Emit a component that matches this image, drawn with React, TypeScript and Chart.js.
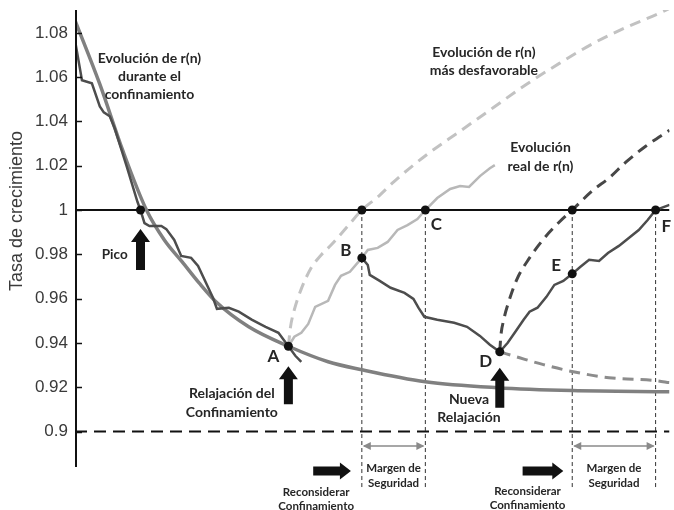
import { useEffect, useRef } from 'react';
import { Chart, registerables } from 'chart.js';

Chart.register(...registerables);

// ---- Series (x: tiempo, y: tasa de crecimiento r(n)) ----

// Modelo de r(n) durante el confinamiento
const MODEL_X = [0, 5, 9.6, 14.4, 18, 21.6, 25, 28.4, 35, 43, 51, 57.8, 70.6, 85, 100.2, 119.8];
const MODEL_Y = [1.0856, 1.0568, 1.027, 1.0, 0.9865, 0.9766, 0.9671, 0.9586, 0.9473, 0.9385, 0.9315, 0.9279, 0.9225, 0.9198, 0.9185, 0.918];

// r(n) observada durante el confinamiento
const CONF_X = [0, 1.4, 3.4, 5, 5.8, 7, 8, 10.4, 12.6, 13.2, 14, 15, 17.4, 18.4, 20, 21.4, 23.4, 24.8, 27.8, 28.6, 31, 33, 35.6, 38.4, 41, 43, 44.4, 45.6];
const CONF_Y = [1.0766, 1.0586, 1.0572, 1.0468, 1.0441, 1.0423, 1.0369, 1.0198, 1.0036, 1.0, 0.9941, 0.9928, 0.9928, 0.9914, 0.9865, 0.9793, 0.9784, 0.9748, 0.9604, 0.9554, 0.9559, 0.9541, 0.9505, 0.9473, 0.9446, 0.9385, 0.9342, 0.9315];

// Evolución real de r(n) tras la relajación
const REAL_X = [43, 44.2, 45.6, 47, 48.4, 51, 52.4, 53.6, 55.4, 57.8, 59, 61, 63, 65, 67, 69, 70.6, 73, 75.6, 77.6, 79.4, 81.6, 83.6, 84.6];
const REAL_Y = [0.9385, 0.9428, 0.9446, 0.9486, 0.9563, 0.959, 0.9662, 0.9703, 0.9721, 0.9784, 0.982, 0.9829, 0.9856, 0.991, 0.9932, 0.9959, 1.0, 1.0054, 1.0095, 1.0108, 1.0104, 1.0153, 1.0189, 1.0203];

// r(n) tras reconsiderar el confinamiento en B y nueva relajación en D
const RECONF_X = [57.8, 59, 59.4, 61.4, 63.6, 66.4, 68.2, 69.2, 70.4, 73, 76.4, 79, 81.6, 83.6, 85.6, 87.2, 88.6, 90.4, 91.6, 93.2, 95, 96.6, 98.4, 100.2, 101.8, 103.6, 105.6, 107.4, 109.6, 111.6, 113.6, 115.4, 117, 119.8];
const RECONF_Y = [0.9784, 0.9752, 0.9707, 0.968, 0.9649, 0.9626, 0.9599, 0.9559, 0.9518, 0.9505, 0.9491, 0.9473, 0.9432, 0.9392, 0.936, 0.9401, 0.9446, 0.9505, 0.9541, 0.9559, 0.9608, 0.9662, 0.968, 0.9712, 0.9743, 0.9775, 0.977, 0.9806, 0.9838, 0.9874, 0.991, 0.9955, 1.0, 1.0023];

// Evolución más desfavorable tras la relajación (A)
const WORST_X = [43, 43.4, 44.2, 45.6, 47.6, 49.6, 51.6, 55, 57.8, 61, 64.4, 71, 77.6, 84.4, 91, 97.6, 104.4, 111, 117.6, 119.8];
const WORST_Y = [0.9385, 0.9468, 0.955, 0.9644, 0.9739, 0.9797, 0.9842, 0.9928, 1.0, 1.0059, 1.0131, 1.0252, 1.0356, 1.0464, 1.0568, 1.0662, 1.0752, 1.0824, 1.0887, 1.091];

// Evolución más desfavorable tras la nueva relajación (D)
const WORST2_X = [85.6, 85.8, 86.4, 87.4, 89, 91.6, 94.6, 97.6, 100.2, 104.4, 107.6, 111, 115, 119.8];
const WORST2_Y = [0.936, 0.9428, 0.9505, 0.9586, 0.9685, 0.9784, 0.9874, 0.9946, 1.0, 1.009, 1.0144, 1.0216, 1.0288, 1.036];

// Continuación del confinamiento desde D
const TAIL_X = [85.6, 89.6, 94.4, 100.4, 107.6, 117, 119.8];
const TAIL_Y = [0.936, 0.9333, 0.9302, 0.927, 0.9243, 0.923, 0.9221];

// Puntos señalados: Pico, A, cruces con r = 1, B, C, D, E, F
const KEY_X = [13.2, 43, 57.8, 57.8, 70.6, 85.6, 100.2, 100.2, 117];
const KEY_Y = [1.0, 0.9385, 1.0, 0.9784, 1.0, 0.936, 1.0, 0.9712, 1.0];

// Momentos de decisión (líneas verticales)
const MARKS_X = [57.8, 70.6, 100.2, 117];

const X_RANGE = [0, 119.8];
const Y_TICKS = [0.9, 0.92, 0.94, 0.96, 0.98, 1, 1.02, 1.04, 1.06, 1.08];
const Y_TICK_LABELS = ['0.9', '0.92', '0.94', '0.96', '0.98', '1', '1.02', '1.04', '1.06', '1.08'];

const pts = (xs: number[], ys: number[]) => xs.map((x, i) => ({ x, y: ys[i] }));

const TEXT = '#262626';
const BOLD = (size: number) => `bold ${size}px Lato, "Open Sans", sans-serif`;

type Ctx = CanvasRenderingContext2D;

function textLines(ctx: Ctx, lines: string[], cx: number, cy: number, lh: number, size: number, align: CanvasTextAlign = 'center') {
  ctx.font = BOLD(size);
  ctx.fillStyle = TEXT;
  ctx.textAlign = align;
  ctx.textBaseline = 'middle';
  lines.forEach((t, i) => ctx.fillText(t, cx, cy + i * lh));
}

function upArrow(ctx: Ctx, cx: number, tip: number, base: number) {
  const hw = 9.5, sw = 4.5, hl = 13;
  ctx.beginPath();
  ctx.moveTo(cx, tip);
  ctx.lineTo(cx + hw, tip + hl);
  ctx.lineTo(cx + sw, tip + hl);
  ctx.lineTo(cx + sw, base);
  ctx.lineTo(cx - sw, base);
  ctx.lineTo(cx - sw, tip + hl);
  ctx.lineTo(cx - hw, tip + hl);
  ctx.closePath();
  ctx.fillStyle = '#111';
  ctx.fill();
}

function rightArrow(ctx: Ctx, x0: number, x1: number, cy: number) {
  const hh = 8.5, sh = 4.5, hl = 11;
  ctx.beginPath();
  ctx.moveTo(x1, cy);
  ctx.lineTo(x1 - hl, cy - hh);
  ctx.lineTo(x1 - hl, cy - sh);
  ctx.lineTo(x0, cy - sh);
  ctx.lineTo(x0, cy + sh);
  ctx.lineTo(x1 - hl, cy + sh);
  ctx.lineTo(x1 - hl, cy + hh);
  ctx.closePath();
  ctx.fillStyle = '#111';
  ctx.fill();
}

function spanArrow(ctx: Ctx, x0: number, x1: number, cy: number) {
  ctx.strokeStyle = '#8a8a8a';
  ctx.fillStyle = '#8a8a8a';
  ctx.lineWidth = 1.5;
  ctx.beginPath();
  ctx.moveTo(x0 + 2, cy);
  ctx.lineTo(x1 - 2, cy);
  ctx.stroke();
  const head = (x: number, dir: number) => {
    ctx.beginPath();
    ctx.moveTo(x, cy);
    ctx.lineTo(x + dir * 8, cy - 4);
    ctx.lineTo(x + dir * 8, cy + 4);
    ctx.closePath();
    ctx.fill();
  };
  head(x0 + 1, 1);
  head(x1 - 1, -1);
}

const annotations = {
  id: 'annotations',
  afterDatasetsDraw(chart: Chart) {
    const { ctx, chartArea } = chart;
    const xs = chart.scales.x;
    const ys = chart.scales.y;
    const X = (v: number) => xs.getPixelForValue(v);
    const Y = (v: number) => ys.getPixelForValue(v);
    ctx.save();

    // eje vertical y marcas hacia dentro
    ctx.strokeStyle = '#111';
    ctx.lineWidth = 2;
    ctx.beginPath();
    ctx.moveTo(chartArea.left, chartArea.top);
    ctx.lineTo(chartArea.left, chartArea.bottom);
    ctx.stroke();
    ctx.lineWidth = 1.5;
    Y_TICKS.forEach((v) => {
      const py = Math.round(Y(v)) + 0.5;
      ctx.beginPath();
      ctx.moveTo(chartArea.left, py);
      ctx.lineTo(chartArea.left + 6, py);
      ctx.stroke();
    });

    // título del eje
    ctx.save();
    ctx.translate(17, 211);
    ctx.rotate(-Math.PI / 2);
    ctx.font = '18px "Liberation Sans", Arial, sans-serif';
    ctx.fillStyle = '#3a3a3a';
    ctx.textAlign = 'center';
    ctx.textBaseline = 'middle';
    ctx.fillText('Tasa de crecimiento', 0, 0);
    ctx.restore();

    // rótulos de las curvas
    textLines(ctx, ['Evolución de r(n)', 'durante el', 'confinamiento'], X(15), Y(1.0686), 18, 14);
    textLines(ctx, ['Evolución de r(n)', 'más desfavorable'], X(82.4), Y(1.0713), 18, 14);
    textLines(ctx, ['Evolución', 'real de r(n)'], X(93.8), Y(1.0284), 19, 14);
    textLines(ctx, ['Pico'], X(8), Y(0.9797), 18, 13.5);
    textLines(ctx, ['Relajación del', 'Confinamiento'], X(31.6), Y(0.9174), 19, 14);
    textLines(ctx, ['Nueva', 'Relajación'], X(79.4), Y(0.9147), 18, 14);

    // letras de los puntos
    const letter = (t: string, i: number, dx: number, dy: number, align: CanvasTextAlign = 'center') =>
      textLines(ctx, [t], X(KEY_X[i]) + dx, Y(KEY_Y[i]) + dy, 0, 17, align);
    letter('A', 1, -15, 10);
    letter('B', 3, -16, -7);
    letter('C', 4, 11, 14);
    letter('D', 5, -14, 10);
    letter('E', 7, -16, -8);
    letter('F', 8, 6, 16, 'left');

    // flechas de relajación
    upArrow(ctx, X(KEY_X[0]), Y(KEY_Y[0]) + 19, Y(KEY_Y[0]) + 60);
    upArrow(ctx, X(KEY_X[1]), Y(KEY_Y[1]) + 20, Y(KEY_Y[1]) + 58);
    upArrow(ctx, X(KEY_X[5]), Y(KEY_Y[5]) + 16, Y(KEY_Y[5]) + 56);

    // márgenes de seguridad
    const yMargin = Y(0.8935);
    spanArrow(ctx, X(MARKS_X[0]), X(MARKS_X[1]), yMargin);
    spanArrow(ctx, X(MARKS_X[2]), X(MARKS_X[3]), yMargin);
    textLines(ctx, ['Margen de', 'Seguridad'], (X(MARKS_X[0]) + X(MARKS_X[1])) / 2, Y(0.8835), 15, 11.5);
    textLines(ctx, ['Margen de', 'Seguridad'], (X(MARKS_X[2]) + X(MARKS_X[3])) / 2, Y(0.8835), 15, 11.5);

    // reconsiderar confinamiento
    const yRe = Y(0.8822);
    rightArrow(ctx, X(48), X(55.6), yRe);
    rightArrow(ctx, X(90.2), X(98.4), yRe);
    textLines(ctx, ['Reconsiderar', 'Confinamiento'], X(48.6), Y(0.8727), 14, 11.5);
    textLines(ctx, ['Reconsiderar', 'Confinamiento'], X(91.2), Y(0.8731), 14, 11.5);

    ctx.restore();
  },
};

const line = (data: { x: number; y: number }[], color: string, width: number, extra: Record<string, unknown> = {}) => ({
  data,
  borderColor: color,
  backgroundColor: color,
  borderWidth: width,
  pointRadius: 0,
  fill: false,
  tension: 0,
  ...extra,
});

const DASH = [11, 7];

export default function App() {
  const ref = useRef<HTMLCanvasElement>(null);

  useEffect(() => {
    const verticals = MARKS_X.map((x) =>
      line(pts([x, x], [1.0, 0.8736]), '#333', 1, { borderDash: [4, 3], clip: false, order: 8 })
    );

    const chart = new Chart(ref.current as HTMLCanvasElement, {
      type: 'line',
      data: {
        datasets: [
          {
            data: pts(KEY_X, KEY_Y),
            showLine: false,
            pointRadius: 4.5,
            pointBackgroundColor: '#111',
            pointBorderColor: '#111',
            pointBorderWidth: 0,
            order: 0,
          },
          line(pts(CONF_X, CONF_Y), '#4d4d4d', 2.5, { order: 1 }),
          line(pts(RECONF_X, RECONF_Y), '#4d4d4d', 2.5, { order: 1 }),
          line(pts(REAL_X, REAL_Y), '#b8b8b8', 2.5, { order: 2 }),
          line(pts(WORST_X, WORST_Y), '#c2c2c2', 3, { borderDash: DASH, cubicInterpolationMode: 'monotone', order: 3 }),
          line(pts(WORST2_X, WORST2_Y), '#474747', 3, { borderDash: DASH, cubicInterpolationMode: 'monotone', order: 3 }),
          line(pts(TAIL_X, TAIL_Y), '#8c8c8c', 3, { borderDash: DASH, cubicInterpolationMode: 'monotone', order: 3 }),
          line(pts(MODEL_X, MODEL_Y), '#808080', 3.5, { cubicInterpolationMode: 'monotone', order: 4 }),
          line(pts(X_RANGE, [1, 1]), '#111', 2, { order: 9 }),
          line(pts(X_RANGE, [0.9, 0.9]), '#111', 2, { borderDash: [12, 7], order: 9 }),
          ...verticals,
        ],
      },
      options: {
        responsive: false,
        animation: false,
        devicePixelRatio: 1,
        layout: { padding: { top: 10, bottom: 43, left: 0, right: 0 } },
        plugins: { legend: { display: false }, tooltip: { enabled: false } },
        scales: {
          x: { type: 'linear', display: false, min: 0.2, max: 119.8 },
          y: {
            type: 'linear',
            min: 0.884,
            max: 1.0903,
            afterBuildTicks: (s: any) => {
              s.ticks = Y_TICKS.map((v) => ({ value: v }));
            },
            afterFit: (s: any) => {
              s.width = 76;
              s.paddingTop = 0;
              s.paddingBottom = 0;
            },
            grid: { display: false, drawTicks: false },
            border: { display: false },
            ticks: {
              padding: 8,
              color: '#3a3a3a',
              font: { family: '"Liberation Sans", Arial, sans-serif', size: 17 },
              callback: (v: any) => {
                const i = Y_TICKS.findIndex((t) => Math.abs(t - Number(v)) < 1e-6);
                return i >= 0 ? Y_TICK_LABELS[i] : '';
              },
            },
          },
        },
      },
      plugins: [annotations],
    } as any);

    return () => chart.destroy();
  }, []);

  return (
    <canvas
      ref={ref}
      width={674}
      height={510}
      style={{ position: 'absolute', left: 0, top: 0, width: 674, height: 510 }}
    />
  );
}
